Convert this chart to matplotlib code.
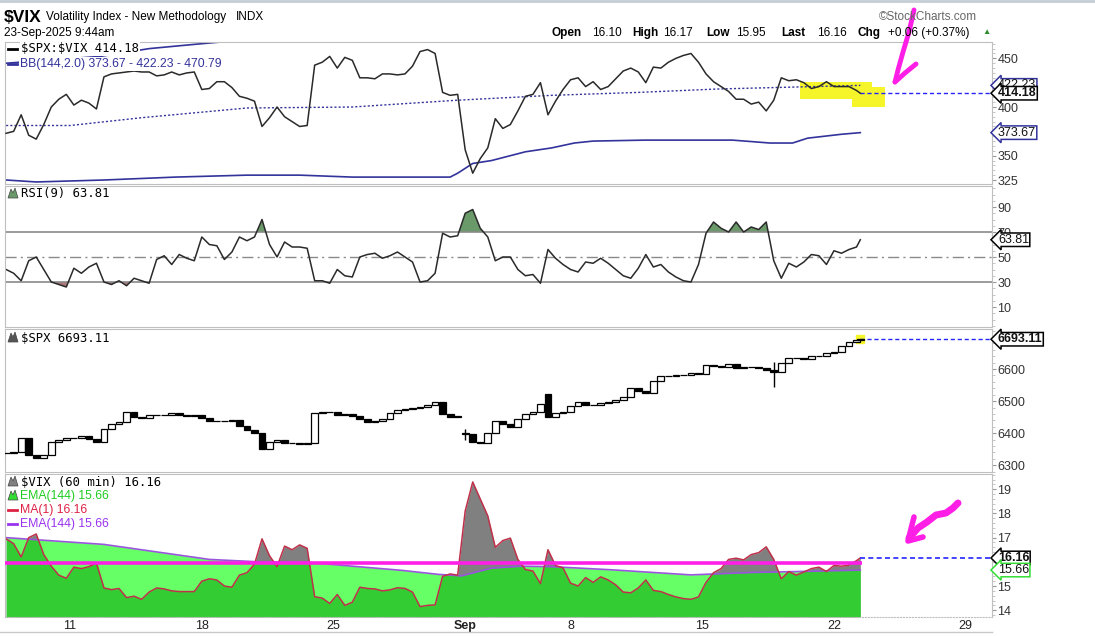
import numpy as np
import matplotlib.pyplot as plt
from matplotlib.lines import Line2D
from matplotlib.patches import Polygon
from matplotlib.ticker import MultipleLocator

plt.rcParams['font.family'] = ['Liberation Sans', 'DejaVu Sans']

W, H = 1095, 636

# hourly bars: 0 = Mon Aug 11 9:30, sampled every 2 bars, last one = Sep 23 9:30
bar_idx = list(range(-17, 210, 2)) + [210]

day_ticks = [0, 35, 70, 105, 133, 168, 203, 238]
day_labels = ['11', '18', '25', 'Sep', '8', '15', '22', '29']

# $SPX:$VIX ratio
ratio = [373, 375, 392, 371, 367, 382, 400, 408, 413, 402,
         407, 404, 398, 431, 434, 435, 436, 437, 436, 436,
         432, 433, 436, 433, 435, 436, 418, 419, 426, 426,
         420, 411, 409, 406, 380, 389, 400, 390, 385, 380,
         381, 443, 446, 452, 440, 451, 448, 430, 430, 429,
         434, 434, 433, 434, 442, 457, 459, 455, 415, 412,
         413, 356, 332, 347, 358, 388, 378, 382, 396, 411,
         413, 425, 392, 406, 418, 428, 430, 421, 426, 418,
         421, 429, 437, 440, 436, 425, 441, 440, 446, 450,
         453, 455, 446, 434, 426, 421, 416, 408, 408, 403,
         405, 396, 407, 430, 427, 428, 425, 419, 421, 426,
         421, 421, 421, 417, 414.18]

# Bollinger bands (144, 2.0)
bb_up_idx = [-17, 8, 21, 32, 42, 52, 61, 72, 101, 128, 167, 210]
bb_up = [445, 452, 460, 464, 467.5, 467, 467.6, 472, 476, 470, 471, 470.79]
bb_mid_idx = [-17, 0, 19, 47, 75, 103, 128, 151, 172, 210]
bb_mid = [381, 381, 389, 399, 400, 407, 412, 415, 418.5, 422.23]
bb_low_idx = [-17, -9, 9, 28, 47, 61, 75, 101, 103, 107, 112, 121,
              128, 134, 139, 153, 176, 186, 192, 196, 205, 210]
bb_low = [325, 323, 325, 328, 330, 330, 328, 328, 332, 342, 345, 354,
          358, 363, 365, 366, 366, 363, 363, 368, 372, 373.67]

# RSI(9)
rsi = [40, 37, 31, 47, 50, 40, 30, 28, 26, 41,
       37, 42, 45, 30, 28, 31, 27, 33, 31, 29,
       48, 51, 44, 52, 49, 47, 66, 60, 59, 48,
       54, 66, 63, 66, 80, 60, 50, 62, 58, 58,
       57, 31, 31, 29, 40, 35, 34, 50, 52, 53,
       49, 51, 54, 50, 46, 30, 31, 37, 69, 66,
       67, 85, 88, 73, 66, 47, 50, 50, 40, 35,
       36, 29, 56, 49, 44, 40, 38, 46, 45, 49,
       45, 40, 35, 33, 41, 52, 42, 44, 38, 34,
       31, 30, 44, 69, 78, 73, 70, 78, 70, 74,
       72, 78, 47, 33, 45, 42, 46, 52, 51, 44,
       55, 53, 56, 58, 63.81]

# $SPX closes
spx = [6339, 6340, 6384, 6332, 6323, 6332, 6374, 6379, 6384, 6386,
       6392, 6383, 6372, 6412, 6430, 6436, 6466, 6450, 6446, 6458,
       6458, 6457, 6462, 6458, 6455, 6458, 6446, 6439, 6437, 6437,
       6441, 6422, 6409, 6402, 6352, 6372, 6380, 6370, 6368, 6365,
       6370, 6464, 6466, 6466, 6456, 6459, 6454, 6443, 6434, 6439,
       6443, 6463, 6471, 6476, 6479, 6482, 6488, 6497, 6460, 6450,
       6454, 6396, 6372, 6368, 6400, 6437, 6428, 6418, 6444, 6460,
       6467, 6490, 6452, 6463, 6466, 6485, 6498, 6489, 6487, 6494,
       6497, 6503, 6512, 6540, 6533, 6525, 6562, 6577, 6579, 6581,
       6583, 6588, 6585, 6612, 6610, 6605, 6616, 6604, 6605, 6607,
       6602, 6597, 6592, 6620, 6633, 6634, 6632, 6641, 6641, 6650,
       6653, 6673, 6685, 6692, 6693.11]
spx_gap_open = {61: 6402, 72: 6522}
spx_wicks = [(61, 6378, 6412), (102, 6545, 6622)]

# $VIX (60 min)
vix = [16.95, 16.75, 16.2, 17.0, 17.15, 16.3, 15.82, 15.45, 15.32, 15.78,
       15.72, 15.8, 15.95, 14.92, 14.85, 14.9, 14.52, 14.58, 14.45, 14.75,
       14.92, 14.88, 14.8, 14.77, 14.77, 14.77, 15.2, 15.3, 15.25, 15.0,
       14.95, 15.45, 15.55, 15.9, 16.95, 16.25, 15.8, 16.65, 16.5, 16.7,
       16.56, 14.56, 14.5, 14.28, 14.65, 14.2, 14.33, 14.95, 14.9, 14.88,
       14.8, 14.84, 14.93, 14.9, 14.75, 14.15, 14.2, 14.22, 15.4, 15.5,
       15.45, 18.1, 19.3, 18.6, 17.9, 16.6, 16.88, 16.98, 16.1, 15.68,
       15.62, 15.1, 16.5, 15.85, 15.75, 15.12, 15.0, 15.35, 15.15, 15.38,
       15.25, 15.05, 14.75, 14.72, 14.92, 15.25, 14.82, 14.77, 14.65, 14.55,
       14.48, 14.45, 14.55, 15.15, 15.55, 15.72, 16.1, 16.15, 16.08, 16.3,
       16.38, 16.62, 16.1, 15.3, 15.6, 15.45, 15.58, 15.72, 15.78, 15.6,
       15.85, 15.82, 15.86, 16.05, 16.16]
ema_idx = [-17, 9, 37, 50, 63, 75, 88, 98, 104, 112, 120, 128, 144, 165, 181, 194, 210]
ema144 = [17.0, 16.72, 16.1, 16.0, 15.98, 15.82, 15.65, 15.48, 15.42, 15.74,
          15.82, 15.8, 15.67, 15.46, 15.56, 15.6, 15.66]

BLUE = '#33339c'
DASH_BLUE = '#2424ff'
MAGENTA = '#ff1ee6'


def panel(x0, y0, x1, y1, ylim):
    ax = fig.add_axes([x0 / W, 1 - y1 / H, (x1 - x0) / W, (y1 - y0) / H])
    ax.set_xlim(-17.3, 245)
    ax.set_ylim(*ylim)
    ax.yaxis.tick_right()
    ax.tick_params(axis='y', which='major', length=3, color='#999999',
                   labelsize=9, labelcolor='#333333', pad=1)
    ax.tick_params(axis='y', which='minor', length=2, color='#bbbbbb')
    ax.set_xticks([])
    for s in ax.spines.values():
        s.set_color('#bfbfbf')
    return ax


def tag(ax, y, text, ec, bold=False):
    ax.text(1.006, y, text, transform=ax.get_yaxis_transform(), ha='left', va='center',
            fontsize=9, color='#111111', fontweight='bold' if bold else 'normal',
            bbox=dict(boxstyle='larrow,pad=0.06', fc='white', ec=ec, lw=1.1),
            clip_on=False, zorder=10)


def ftext(x, y, s, **kw):
    fig.text(x / W, 1 - y / H, s, va='center', **kw)


def fline(pts, **kw):
    fig.add_artist(Line2D([p[0] / W for p in pts], [1 - p[1] / H for p in pts],
                          transform=fig.transFigure, **kw))


def mountain(x, y, color):
    fig.add_artist(Polygon([((x + dx) / W, 1 - (y + dy) / H) for dx, dy in
                            [(0, 5), (3, -4), (5, 0), (7, -5), (10, 5)]],
                           closed=True, transform=fig.transFigure, fc=color, ec='#444444', lw=0.5))


fig = plt.figure(figsize=(W / 100, H / 100), dpi=100)

# ---- ratio + BB
ax1 = panel(5, 42, 992, 184, (320.9, 466.8))
ax1.set_yticks([325, 350, 400, 450])
ax1.yaxis.set_minor_locator(MultipleLocator(5))
ax1.add_patch(Polygon([(193.9, 425.5), (213.1, 425.5), (213.1, 420.4), (216.5, 420.4),
                       (216.5, 399.7), (207.8, 399.7), (207.8, 408), (193.9, 408)],
                      closed=True, fc='#f5f52a', ec='none', zorder=1))
ax1.plot(bb_up_idx, bb_up, color=BLUE, lw=1.2, zorder=2)
ax1.plot(bb_low_idx, bb_low, color=BLUE, lw=1.2, zorder=2)
ax1.plot(bb_mid_idx, bb_mid, color=BLUE, lw=1, ls=(0, (1.5, 1.5)), zorder=2)
ax1.plot(bar_idx, ratio, color='#2a2a2a', lw=1.1, zorder=3)
ax1.hlines(ratio[-1], bar_idx[-1], 245, colors=DASH_BLUE, linestyles=(0, (3, 2)), lw=1, zorder=2)
tag(ax1, bb_mid[-1], '422.23', BLUE)
tag(ax1, ratio[-1], '414.18', 'black', bold=True)
tag(ax1, bb_low[-1], '373.67', BLUE)

# ---- RSI
ax2 = panel(5, 186, 992, 327, (-6, 106.8))
ax2.set_yticks([10, 30, 50, 70, 90])
ax2.yaxis.set_minor_locator(MultipleLocator(5))
r = np.array(rsi)
ax2.fill_between(bar_idx, r, 70, where=r > 70, interpolate=True, color='#6a9a6a', lw=0)
ax2.fill_between(bar_idx, r, 30, where=r < 30, interpolate=True, color='#b07878', lw=0)
ax2.axhline(70, color='#8a8a8a', lw=1.2)
ax2.axhline(30, color='#8a8a8a', lw=1.2)
ax2.axhline(50, color='#8a8a8a', lw=1, ls=(0, (8, 3, 1.5, 3)))
ax2.plot(bar_idx, rsi, color='#2a2a2a', lw=1.1)
tag(ax2, rsi[-1], '63.81', 'black')

# ---- SPX candles
ax3 = panel(5, 329, 992, 472, (6279, 6725))
ax3.set_yticks([6300, 6400, 6500, 6600])
ax3.yaxis.set_minor_locator(MultipleLocator(20))
opens = [spx[0]] + spx[:-1]
for k, o in spx_gap_open.items():
    opens[k] = o
for k, lo, hi in spx_wicks:
    ax3.vlines(bar_idx[k], lo, hi, colors='black', lw=1)
lows = [min(o, c) for o, c in zip(opens, spx)]
heights = [abs(c - o) for o, c in zip(opens, spx)]
faces = ['white' if c >= o else 'black' for o, c in zip(opens, spx)]
ax3.plot(bar_idx[-1], spx[-1], 's', color='#f5f52a', ms=6, zorder=1)
ax3.bar(bar_idx, heights, bottom=lows, width=1.8, color=faces, edgecolor='black', lw=0.9, zorder=3)
ax3.hlines(spx[-1], bar_idx[-1], 245, colors=DASH_BLUE, linestyles=(0, (3, 2)), lw=1)
tag(ax3, spx[-1], '6693.11', 'black', bold=True)

# ---- VIX area + EMA
ax4 = panel(5, 474, 992, 617, (13.72, 19.63))
ax4.set_yticks([14, 15, 17, 18, 19])
ax4.yaxis.set_minor_locator(MultipleLocator(0.2))
floor = ax4.get_ylim()[0]
ax4.fill_between(bar_idx, floor, vix, color='#808080', lw=0)
ax4.fill_between(ema_idx, floor, ema144, color='#00ff00', alpha=0.6, lw=0)
ax4.plot(ema_idx, ema144, color='#9955dd', lw=1.2)
ax4.plot(bar_idx, vix, color='#c0304a', lw=1.1)
ax4.hlines(15.97, -17.3, bar_idx[-1] + 0.5, colors=MAGENTA, lw=2.6, zorder=4)
ax4.hlines(vix[-1], bar_idx[-1], 245, colors=DASH_BLUE, linestyles=(0, (3, 2)), lw=1.2)
tag(ax4, vix[-1], '16.16', 'black', bold=True)
tag(ax4, ema144[-1], '15.66', '#33dd33')
ax4.set_xticks(day_ticks)
ax4.set_xticklabels(day_labels, fontsize=9, color='#222222')
ax4.get_xticklabels()[3].set_fontweight('bold')
ax4.tick_params(axis='x', length=0, pad=2)
ax4.spines['bottom'].set_linestyle(':')

# ---- header
fline([(0, 1), (W, 1)], color='#c4ccd4', lw=2)
fline([(0, 632), (992, 632)], color='#c8c8c8', lw=1)
ftext(4, 17, r'\$VIX', fontsize=12.5, fontweight='bold')
ftext(46, 17, 'Volatility Index - New Methodology', fontsize=8.5)
ftext(236, 17, 'INDX', fontsize=8.5)
ftext(4, 33, '23-Sep-2025 9:44am', fontsize=8.5)
ftext(879, 17, '\u00a9StockCharts.com', fontsize=8.5, color='#666666')
for x, s, b in [(551, 'Open', True), (592, '16.10', False), (632, 'High', True),
                (663, '16.17', False), (706, 'Low', True), (736, '15.95', False),
                (781, 'Last', True), (817, '16.16', False), (857, 'Chg', True),
                (888, '+0.06 (+0.37%)', False)]:
    ftext(x, 33, s, fontsize=8.5, fontweight='bold' if b else 'normal')
ftext(982, 33, '\u25b2', fontsize=6, color='#2e8b2e')

# ---- panel legends
mono = 'DejaVu Sans Mono'
wb = dict(fc='white', ec='none', pad=0.5)
fline([(8, 49), (17, 49)], color='black', lw=2)
ftext(21, 49, r'\$SPX:\$VIX 414.18', fontsize=8.8, family=mono, bbox=wb)
fline([(8, 64), (17, 64)], color=BLUE, lw=2)
ftext(20, 64, 'BB(144,2.0) 373.67 - 422.23 - 470.79', fontsize=8.8, color=BLUE, bbox=wb)
mountain(8, 193, '#6a9a6a')
ftext(21, 194, 'RSI(9) 63.81', fontsize=8.8, family=mono, bbox=wb)
mountain(8, 337, '#555555')
ftext(21, 338, r'\$SPX 6693.11', fontsize=8.8, family=mono, bbox=wb)
mountain(8, 481, '#808080')
ftext(21, 482, r'\$VIX (60 min) 16.16', fontsize=8.8, family=mono, bbox=wb)
mountain(8, 495, '#33dd33')
ftext(20, 496, 'EMA(144) 15.66', fontsize=8.8, color='#22cc22', bbox=wb)
fline([(8, 510), (17, 510)], color='#dd2244', lw=2)
ftext(20, 510, 'MA(1) 16.16', fontsize=8.8, color='#dd2244', bbox=wb)
fline([(8, 524), (17, 524)], color='#9933ee', lw=2)
ftext(20, 524, 'EMA(144) 15.66', fontsize=8.8, color='#9933ee', bbox=wb)

# ---- hand-drawn magenta arrows
fline([(914, 10), (909, 32), (903, 52), (898, 70), (895, 82)], color=MAGENTA, lw=3.5,
      solid_capstyle='round', solid_joinstyle='round')
fline([(895, 82), (905, 73), (916, 64)], color=MAGENTA, lw=3.5, solid_capstyle='round')
fline([(958, 503), (953, 508), (946, 513), (936, 515), (927, 522), (918, 528), (909, 538)],
      color=MAGENTA, lw=5, solid_capstyle='round', solid_joinstyle='round')
fline([(914, 517), (908, 541), (923, 537)], color=MAGENTA, lw=4, solid_capstyle='round',
      solid_joinstyle='round')

fig.savefig('out.png', dpi=100)
